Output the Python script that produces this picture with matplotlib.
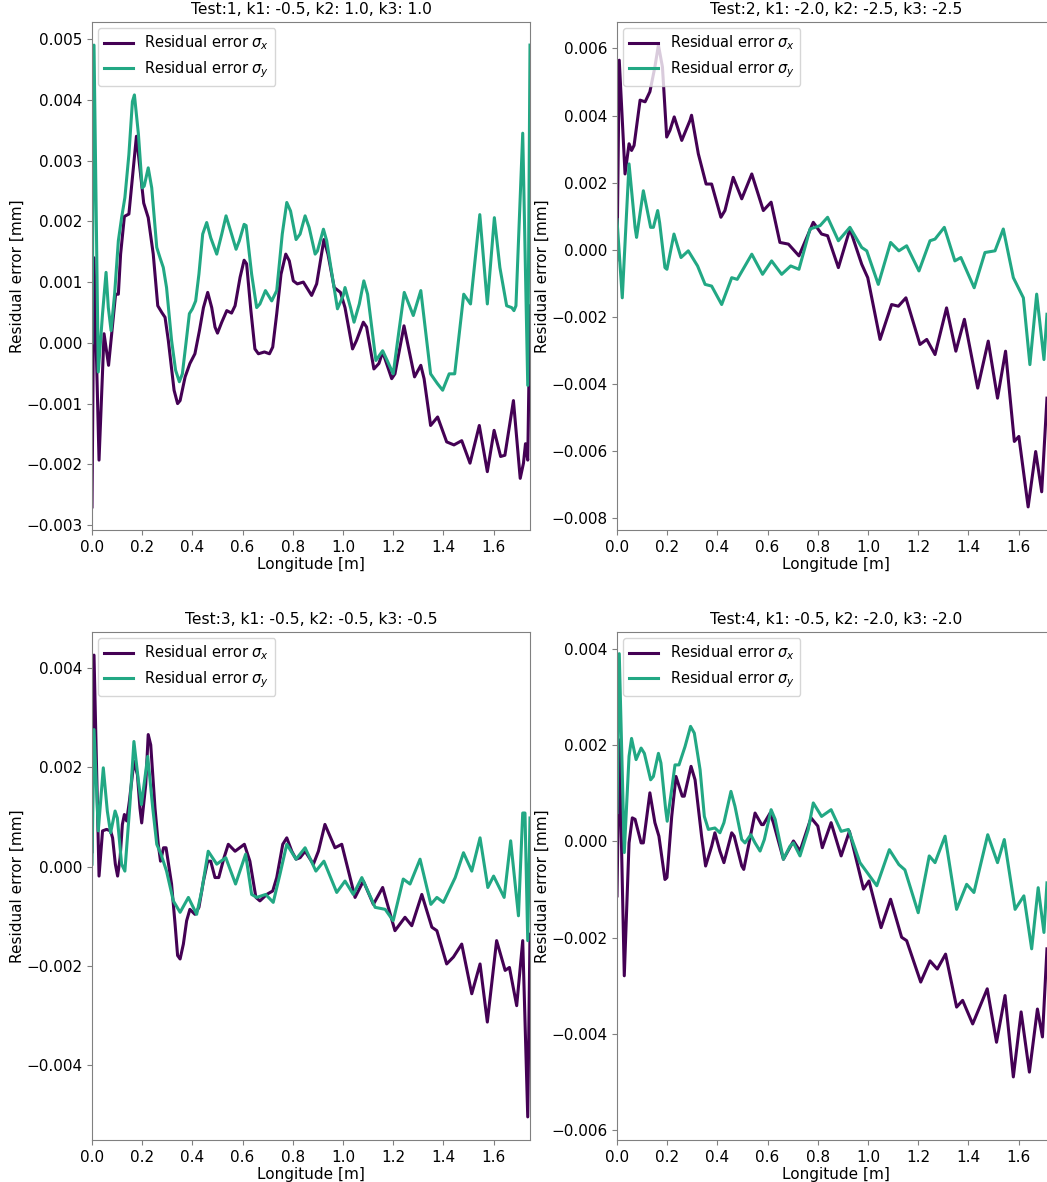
import matplotlib
matplotlib.use('Agg')
import matplotlib.pyplot as plt
from matplotlib.ticker import MultipleLocator

# residual error along the beam for four stiffness settings
titles = ["Test:1, k1: -0.5, k2: 1.0, k3: 1.0",
          "Test:2, k1: -2.0, k2: -2.5, k3: -2.5",
          "Test:3, k1: -0.5, k2: -0.5, k3: -0.5",
          "Test:4, k1: -0.5, k2: -2.0, k3: -2.0"]

# test 1
sx1_x = [0, 0.008, 0.028, 0.048, 0.066, 0.094, 0.105, 0.114, 0.129, 0.147, 0.177, 0.206, 0.224, 0.244,
         0.262, 0.278, 0.291, 0.304, 0.327, 0.341, 0.351, 0.371, 0.39, 0.41, 0.428, 0.444, 0.461, 0.477,
         0.49, 0.5, 0.517, 0.537, 0.556, 0.57, 0.59, 0.606, 0.616, 0.633, 0.649, 0.663, 0.687, 0.707, 0.72,
         0.736, 0.753, 0.772, 0.786, 0.802, 0.818, 0.842, 0.875, 0.895, 0.924, 0.94, 0.965, 0.99, 1.008,
         1.038, 1.054, 1.081, 1.094, 1.123, 1.143, 1.158, 1.194, 1.207, 1.243, 1.285, 1.31, 1.323, 1.349,
         1.377, 1.413, 1.442, 1.473, 1.506, 1.543, 1.575, 1.602, 1.628, 1.645, 1.679, 1.706, 1.719, 1.727,
         1.736, 1.745]
sx1_y = [-0.0027, 0.0014, -0.00193, 0.00015, -0.00037, 0.0008, 0.0008, 0.00146, 0.00208, 0.00212, 0.0034,
         0.0023, 0.00206, 0.00146, 0.00061, 0.0005, 0.00042, 0.00004, -0.00078, -0.001, -0.00095, -0.00056,
         -0.00034, -0.00018, 0.0002, 0.00058, 0.00083, 0.00058, 0.00026, 0.00016, 0.00034, 0.00053, 0.00049,
         0.00061, 0.00108, 0.00136, 0.0013, 0.00053, -0.0001, -0.00018, -0.00015, -0.00018, -0.00007,
         0.00048, 0.00113, 0.00146, 0.00135, 0.00102, 0.00097, 0.001, 0.00078, 0.00097, 0.0017, 0.00146,
         0.00091, 0.00083, 0.00058, -0.0001, 0.00004, 0.00034, 0.00026, -0.00043, -0.00034, -0.00015,
         -0.00059, -0.00051, 0.00028, -0.00056, -0.00037, -0.00059, -0.00136, -0.00122, -0.00163, -0.00168,
         -0.00161, -0.00198, -0.00136, -0.00212, -0.00144, -0.00187, -0.00185, -0.00095, -0.00223, -0.00198,
         -0.00166, -0.00193, 0.00061]
sy1_x = [0, 0.008, 0.025, 0.042, 0.056, 0.065, 0.076, 0.09, 0.105, 0.118, 0.131, 0.147, 0.161, 0.169, 0.185,
         0.2, 0.208, 0.224, 0.238, 0.258, 0.271, 0.284, 0.297, 0.317, 0.333, 0.348, 0.36, 0.374, 0.388, 0.4,
         0.413, 0.426, 0.441, 0.457, 0.473, 0.497, 0.517, 0.534, 0.556, 0.574, 0.587, 0.606, 0.614, 0.636,
         0.656, 0.669, 0.691, 0.716, 0.736, 0.758, 0.776, 0.791, 0.813, 0.829, 0.849, 0.865, 0.889, 0.898,
         0.922, 0.935, 0.962, 0.978, 1.001, 1.008, 1.03, 1.044, 1.065, 1.083, 1.098, 1.131, 1.158, 1.176,
         1.2, 1.223, 1.244, 1.28, 1.31, 1.349, 1.376, 1.397, 1.423, 1.445, 1.481, 1.508, 1.545, 1.575,
         1.603, 1.625, 1.652, 1.672, 1.681, 1.689, 1.716, 1.736, 1.745]
sy1_y = [0.0, 0.0049, -0.00048, 0.00048, 0.00116, 0.00058, 0.0002, 0.0008, 0.00168, 0.00206, 0.00239,
         0.0031, 0.00397, 0.00408, 0.00343, 0.00255, 0.00258, 0.00288, 0.00255, 0.00157, 0.0014, 0.00124,
         0.00091, 0.00004, -0.00045, -0.00064, -0.00051, -0.00002, 0.00048, 0.00056, 0.00069, 0.00113,
         0.00179, 0.00198, 0.00173, 0.00146, 0.00179, 0.00209, 0.00179, 0.00154, 0.00168, 0.00195, 0.00193,
         0.00113, 0.00058, 0.00064, 0.00086, 0.00069, 0.00086, 0.00179, 0.00231, 0.00217, 0.0017, 0.00179,
         0.00209, 0.0019, 0.00146, 0.00151, 0.00187, 0.00168, 0.00097, 0.00056, 0.00078, 0.00091, 0.00058,
         0.00034, 0.00064, 0.00102, 0.0008, -0.00029, -0.00013, -0.00029, -0.00051, 0.0002, 0.00083,
         0.00045, 0.00086, -0.00051, -0.00067, -0.00078, -0.00051, -0.00051, 0.0008, 0.00064, 0.00211,
         0.00064, 0.00206, 0.00124, 0.00061, 0.00058, 0.00053, 0.00061, 0.00345, -0.0007, 0.0049]

# test 2
sx2_x = [0, 0.009, 0.032, 0.048, 0.058, 0.068, 0.092, 0.112, 0.131, 0.151, 0.165, 0.181, 0.198, 0.211,
         0.228, 0.258, 0.291, 0.297, 0.324, 0.355, 0.377, 0.414, 0.43, 0.463, 0.497, 0.537, 0.583, 0.614,
         0.649, 0.683, 0.725, 0.782, 0.815, 0.839, 0.882, 0.928, 0.975, 0.999, 1.048, 1.094, 1.121, 1.151,
         1.207, 1.234, 1.267, 1.313, 1.35, 1.384, 1.437, 1.479, 1.516, 1.548, 1.583, 1.601, 1.638, 1.668,
         1.692, 1.713]
sx2_y = [-0.0003, 0.00565, 0.00226, 0.00316, 0.00296, 0.00311, 0.00446, 0.00441, 0.00471, 0.00545, 0.0061,
         0.00545, 0.00336, 0.00356, 0.00396, 0.00326, 0.00386, 0.00401, 0.00286, 0.00196, 0.00196, 0.00097,
         0.00117, 0.00216, 0.00152, 0.00226, 0.00117, 0.00142, 0.00022, 0.00017, -0.00018, 0.00082, 0.00047,
         0.00042, -0.00053, 0.00062, -0.00043, -0.00083, -0.00267, -0.00163, -0.00168, -0.00143, -0.00282,
         -0.00267, -0.00312, -0.00173, -0.00302, -0.00207, -0.00412, -0.00272, -0.00442, -0.00302, -0.00571,
         -0.00556, -0.00766, -0.00601, -0.00721, -0.00442]
sy2_x = [0, 0.021, 0.048, 0.072, 0.078, 0.105, 0.134, 0.145, 0.162, 0.17, 0.191, 0.199, 0.227, 0.255,
         0.284, 0.321, 0.351, 0.377, 0.417, 0.457, 0.479, 0.537, 0.58, 0.616, 0.656, 0.692, 0.725, 0.769,
         0.809, 0.839, 0.882, 0.928, 0.975, 0.995, 1.041, 1.09, 1.123, 1.154, 1.203, 1.247, 1.267, 1.304,
         1.346, 1.37, 1.423, 1.466, 1.506, 1.539, 1.579, 1.619, 1.645, 1.672, 1.701, 1.713]
sy2_y = [0.0009, -0.00143, 0.00256, 0.00067, 0.00037, 0.00176, 0.00067, 0.00067, 0.00117, 0.0008, -0.00053,
         -0.00058, 0.00047, -0.00023, -0.00003, -0.00048, -0.00103, -0.00108, -0.00163, -0.00083, -0.00088,
         -0.00013, -0.00073, -0.00033, -0.00073, -0.00048, -0.00058, 0.00062, 0.00072, 0.00097, 0.00027,
         0.00067, 0.00007, -0.00003, -0.00103, 0.00022, -0.00003, 0.00012, -0.00063, 0.00027, 0.00032,
         0.00067, -0.00033, -0.00023, -0.00113, -0.00008, -0.00003, 0.00062, -0.00083, -0.00143, -0.00342,
         -0.00132, -0.00327, -0.00192]

# test 3
sx3_x = [0, 0.008, 0.028, 0.042, 0.058, 0.074, 0.082, 0.093, 0.102, 0.112, 0.121, 0.129, 0.138, 0.149,
         0.167, 0.181, 0.191, 0.198, 0.214, 0.224, 0.234, 0.251, 0.264, 0.273, 0.285, 0.295, 0.317, 0.331,
         0.341, 0.351, 0.364, 0.377, 0.39, 0.41, 0.426, 0.444, 0.461, 0.473, 0.49, 0.505, 0.526, 0.543,
         0.57, 0.607, 0.629, 0.653, 0.669, 0.696, 0.72, 0.736, 0.76, 0.776, 0.796, 0.813, 0.829, 0.849,
         0.882, 0.902, 0.928, 0.968, 0.995, 1.048, 1.081, 1.121, 1.158, 1.207, 1.247, 1.274, 1.314, 1.354,
         1.374, 1.413, 1.44, 1.473, 1.513, 1.546, 1.575, 1.612, 1.646, 1.663, 1.692, 1.716, 1.736, 1.745]
sx3_y = [0.0003, 0.00426, -0.00019, 0.00072, 0.00075, 0.00072, 0.00058, 0.00005, -0.00019, 0.00018, 0.00085,
         0.00105, 0.00092, 0.00132, 0.00212, 0.00185, 0.00118, 0.00088, 0.00165, 0.00266, 0.00245, 0.00118,
         0.00045, 0.00011, 0.00038, 0.00038, -0.00035, -0.00116, -0.00179, -0.00186, -0.00156, -0.00109,
         -0.00086, -0.00096, -0.00082, -0.00029, 0.00011, 0.00011, -0.00022, -0.00022, 0.00018, 0.00045,
         0.00031, 0.00045, 0.00011, -0.00062, -0.00069, -0.00056, -0.00049, -0.00022, 0.00045, 0.00058,
         0.00031, 0.00015, 0.00018, 0.00031, 0.00005, 0.00031, 0.00085, 0.00038, 0.00045, -0.00062, -0.00029,
         -0.00076, -0.00042, -0.00129, -0.00102, -0.00119, -0.00056, -0.00122, -0.00129, -0.00196, -0.00182,
         -0.00156, -0.00256, -0.00196, -0.00313, -0.00149, -0.00209, -0.00203, -0.0028, -0.00149, -0.00504,
         -0.00136]
sy3_x = [0, 0.008, 0.025, 0.045, 0.061, 0.074, 0.092, 0.101, 0.118, 0.131, 0.151, 0.167, 0.185, 0.197,
         0.222, 0.242, 0.258, 0.275, 0.297, 0.324, 0.351, 0.384, 0.417, 0.437, 0.463, 0.497, 0.533, 0.572,
         0.612, 0.636, 0.656, 0.692, 0.722, 0.749, 0.776, 0.813, 0.849, 0.892, 0.924, 0.975, 1.008, 1.041,
         1.075, 1.128, 1.168, 1.2, 1.24, 1.267, 1.307, 1.35, 1.374, 1.4, 1.447, 1.48, 1.513, 1.546, 1.577,
         1.6, 1.642, 1.668, 1.699, 1.716, 1.725, 1.736, 1.745]
sy3_y = [0.00005, 0.00276, 0.00072, 0.00199, 0.00112, 0.00068, 0.00112, 0.00098, 0.00005, -0.00009, 0.00125,
         0.00252, 0.00172, 0.00125, 0.00222, 0.00118, 0.00045, 0.00025, -0.00009, -0.00069, -0.00092,
         -0.00062, -0.00096, -0.00049, 0.00031, 0.00005, 0.00018, -0.00035, 0.00025, -0.00056, -0.00062,
         -0.00056, -0.00072, -0.00015, 0.00045, 0.00015, 0.00038, -0.00009, 0.00011, -0.00052, -0.00029,
         -0.00056, -0.00022, -0.00082, -0.00086, -0.00109, -0.00025, -0.00035, 0.00015, -0.00076, -0.00062,
         -0.00072, -0.00022, 0.00028, -0.00009, 0.00058, -0.00042, -0.00019, -0.00062, 0.00052, -0.00099,
         0.00108, 0.00108, -0.00149, 0.00098]

# test 4
sx4_x = [0, 0.009, 0.029, 0.048, 0.061, 0.072, 0.096, 0.105, 0.131, 0.151, 0.167, 0.191, 0.199, 0.218,
         0.235, 0.26, 0.268, 0.295, 0.311, 0.337, 0.353, 0.377, 0.39, 0.41, 0.426, 0.457, 0.467, 0.497,
         0.505, 0.537, 0.55, 0.576, 0.583, 0.61, 0.623, 0.663, 0.703, 0.729, 0.773, 0.8, 0.818, 0.853,
         0.893, 0.926, 0.982, 1.004, 1.052, 1.09, 1.134, 1.154, 1.21, 1.247, 1.276, 1.309, 1.353, 1.377,
         1.417, 1.475, 1.512, 1.546, 1.579, 1.61, 1.643, 1.675, 1.695, 1.713]
sx4_y = [-0.00113, 0.00211, -0.00279, -0.00003, 0.00049, 0.00046, -0.00003, -0.00003, 0.00101, 0.00039,
         0.00011, -0.00079, -0.00075, 0.00052, 0.00135, 0.00094, 0.00094, 0.00156, 0.00128, 0.00011, -0.00051,
         -0.0001, 0.00018, -0.0002, -0.00044, 0.00018, 0.00011, -0.00051, -0.00058, 0.00025, 0.00059, 0.00035,
         0.00035, 0.00059, 0.00039, -0.00037, 0.00001, -0.0002, 0.00049, 0.00032, -0.00013, 0.00039, -0.0003,
         0.00021, -0.00099, -0.00082, -0.00179, -0.0012, -0.00199, -0.00206, -0.00292, -0.00248, -0.00265,
         -0.00234, -0.00344, -0.0033, -0.00379, -0.00306, -0.00417, -0.0032, -0.00489, -0.00354, -0.00479,
         -0.00348, -0.00406, -0.00223]
sy4_x = [0, 0.009, 0.029, 0.048, 0.058, 0.076, 0.096, 0.109, 0.134, 0.145, 0.165, 0.175, 0.194, 0.2, 0.218,
         0.231, 0.247, 0.271, 0.293, 0.308, 0.331, 0.348, 0.364, 0.39, 0.41, 0.426, 0.454, 0.47, 0.497, 0.51,
         0.533, 0.55, 0.57, 0.587, 0.614, 0.63, 0.663, 0.689, 0.703, 0.729, 0.762, 0.782, 0.815, 0.853,
         0.893, 0.922, 0.968, 1.035, 1.085, 1.123, 1.147, 1.2, 1.244, 1.267, 1.307, 1.353, 1.393, 1.422,
         1.477, 1.516, 1.543, 1.586, 1.621, 1.652, 1.678, 1.701, 1.713]
sy4_y = [0.0006, 0.0039, -0.00023, 0.00177, 0.00214, 0.0017, 0.00194, 0.00183, 0.00128, 0.00135, 0.00183,
         0.00163, 0.00066, 0.00042, 0.00108, 0.00159, 0.00159, 0.00197, 0.00239, 0.00225, 0.00149, 0.00052,
         0.00025, 0.00028, 0.00018, 0.00039, 0.00104, 0.00073, 0.00004, -0.00003, 0.00014, -0.00003, -0.0002,
         0.00004, 0.00066, 0.00046, -0.00037, -0.0001, -0.00003, -0.0003, 0.00025, 0.0008, 0.00052, 0.00066,
         0.00021, 0.00025, -0.00044, -0.00092, -0.00017, -0.00048, -0.00059, -0.00148, -0.0003, -0.00044,
         0.00011, -0.00141, -0.00089, -0.00106, 0.00014, -0.00044, 0.00004, -0.00141, -0.00113, -0.00223,
         -0.00096, -0.00189, -0.00086]

series = [(sx1_x, sx1_y, sy1_x, sy1_y),
          (sx2_x, sx2_y, sy2_x, sy2_y),
          (sx3_x, sx3_y, sy3_x, sy3_y),
          (sx4_x, sx4_y, sy4_x, sy4_y)]

W, H = 1047, 1182
fig = plt.figure(figsize=(W / 100.0, H / 100.0), dpi=100)

# axes boxes in pixels: left, top, right, bottom (right column runs off the page)
boxes = [(92, 22, 530, 530), (617, 22, 1055, 530),
         (92, 632, 530, 1140), (617, 632, 1055, 1140)]

c_x = '#440154'
c_y = '#22a884'
fs = 11

for i in range(4):
    l, t, r, b = boxes[i]
    ax = fig.add_axes([l / W, 1 - b / H, (r - l) / W, (b - t) / H])
    xx, yx, xy, yy = series[i]
    ax.plot(xx, yx, color=c_x, lw=2.2, label=r'Residual error $\sigma_x$')
    ax.plot(xy, yy, color=c_y, lw=2.2, label=r'Residual error $\sigma_y$')
    ax.set_xlim(0, 1.745)
    if i == 3:
        ax.set_ylim(-0.0062, 0.00435)
    ax.xaxis.set_major_locator(MultipleLocator(0.2))
    ax.set_title(titles[i], fontsize=11.2)
    ax.set_xlabel('Longitude [m]', fontsize=fs, labelpad=2)
    ax.set_ylabel('Residual error [mm]', fontsize=fs, labelpad=1)
    ax.tick_params(labelsize=fs, color='#808080')
    for s in ax.spines.values():
        s.set_edgecolor('#808080')
    ax.legend(loc='upper left', fontsize=10.5, borderaxespad=0.4)

plt.savefig('out.png', dpi=100)
